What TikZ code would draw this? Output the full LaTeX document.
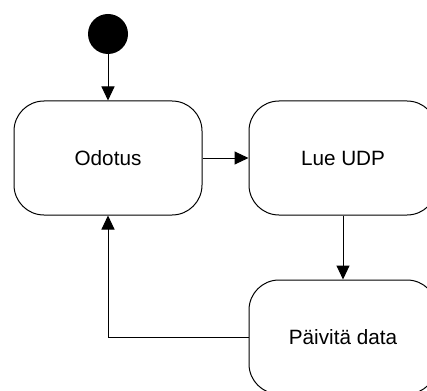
\documentclass[tikz,border=0pt]{standalone}
\usepackage{fontspec}
\setmainfont{Liberation Sans}
\usetikzlibrary{arrows.meta}
\begin{document}
\begin{tikzpicture}[x=1pt,y=-1pt,
  state/.style={draw, line width=1pt, rounded corners=30pt,
    minimum width=188pt, minimum height=114pt, inner sep=0pt,
    font=\fontsize{20.7pt}{24pt}\selectfont},
  flow/.style={draw, line width=1pt, -{Triangle[length=14pt,width=13pt]}},
  ]
\useasboundingbox (0,0) rectangle (427,390);
% initial pseudo-state
\node[circle, fill=black, minimum size=40pt, inner sep=0pt] (start) at (108,34) {};
% states
\node[state] (wait) at (108,158) {Odotus};
\node[state] (read) at (343,158) {Lue UDP};
\node[state] (update) at (343,337) {Päivitä data};
% transitions
\draw[flow] (start) -- (wait);
\draw[flow] (wait) -- (read);
\draw[flow] (read) -- (update);
\draw[flow] (update.west) -| (wait.south);
\end{tikzpicture}
\end{document}
